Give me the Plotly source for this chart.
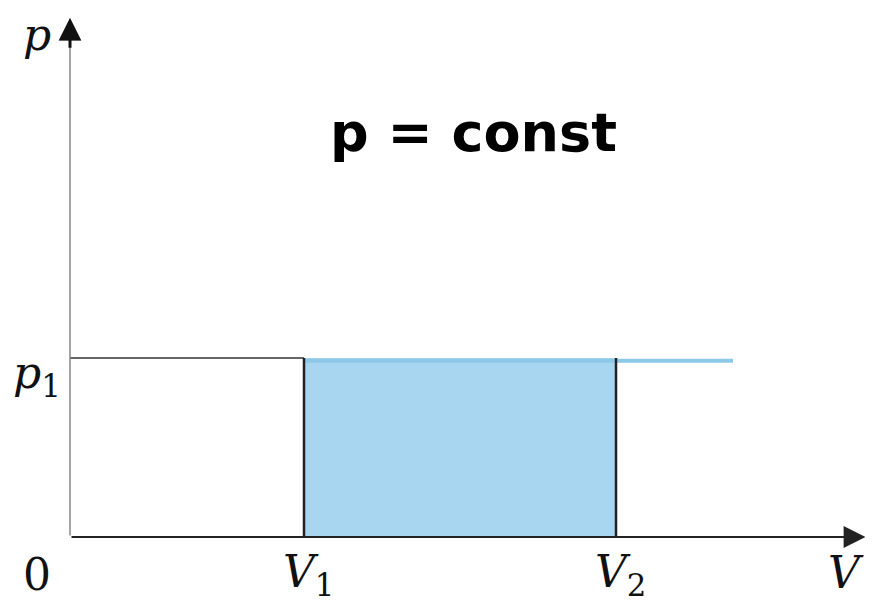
import plotly.graph_objects as go

# Data (arbitrary units)
V1 = 3.0
V2 = 7.0
p1 = 2.0
V_line_end = 8.5
x_axis_end = 10.2
y_axis_end = 5.8

px_x = 78.0   # pixels per V unit
px_y = 89.5   # pixels per p unit
ox, oy = 62, 529  # origin pixel inside the figure (page has 8px body margin)
W, H = 865, 595

fill_color = "rgb(168,214,240)"
line_blue = "rgb(140,200,232)"

fig = go.Figure()

# shaded work area
fig.add_trace(go.Scatter(x=[V1, V2, V2, V1, V1], y=[0, 0, p1, p1, 0], fill="toself",
                         fillcolor=fill_color, line=dict(width=0), mode="lines",
                         hoverinfo="skip", showlegend=False))
# p1 line left part
fig.add_trace(go.Scatter(x=[0, V1], y=[p1, p1], mode="lines",
                         line=dict(color="#666666", width=2), showlegend=False))
# blue isobar
fig.add_trace(go.Scatter(x=[V1, V_line_end], y=[p1 * 0.985, p1 * 0.985], mode="lines",
                         line=dict(color=line_blue, width=4), showlegend=False))
# vertical lines at V1 and V2
for v in (V1, V2):
    fig.add_trace(go.Scatter(x=[v, v], y=[0, p1], mode="lines",
                             line=dict(color="#222222", width=2.5), showlegend=False))

# axes as arrows
fig.add_annotation(x=x_axis_end, y=0, ax=0, ay=0, xref="x", yref="y", axref="x", ayref="y",
                   showarrow=True, arrowhead=2, arrowsize=2.2, arrowwidth=2, arrowcolor="#222222", text="")
fig.add_annotation(x=0, y=y_axis_end, ax=0, ay=0, xref="x", yref="y", axref="x", ayref="y",
                   showarrow=True, arrowhead=2, arrowsize=3, arrowwidth=1.5, arrowcolor="#888888", text="")
# dark arrow tip on the p axis
fig.add_annotation(x=0, y=y_axis_end, ax=0, ay=y_axis_end - 0.35, xref="x", yref="y", axref="x", ayref="y",
                   showarrow=True, arrowhead=2, arrowsize=1.5, arrowwidth=3, arrowcolor="#111111", text="")

serif = dict(family="DejaVu Serif", size=44, color="#111111")

def lab(x, y, text, **kw):
    fig.add_annotation(x=x, y=y, xref="x", yref="y", text=text, showarrow=False, font=serif, **kw)

lab(-0.42, 5.62, "<i>p</i>")
lab(-0.42, 1.8, "<i>p</i><sub>1</sub>")
lab(-0.42, -0.42, "0")
lab(V1 + 0.06, -0.42, "<i>V</i><sub>1</sub>")
lab(V2 + 0.06, -0.42, "<i>V</i><sub>2</sub>")
lab(9.95, -0.4, "<i>V</i>")

fig.add_annotation(x=5.17, y=4.52, xref="x", yref="y", text="<b>p = const</b>", showarrow=False,
                   font=dict(family="DejaVu Sans", size=54, color="black"))

fig.update_xaxes(range=[-ox / px_x, (W - ox) / px_x], visible=False, fixedrange=True)
fig.update_yaxes(range=[-(H - oy) / px_y, oy / px_y], visible=False, fixedrange=True)
fig.update_layout(width=W, height=H, margin=dict(l=0, r=0, t=0, b=0),
                  plot_bgcolor="white", paper_bgcolor="white", showlegend=False)

fig.write_html("out.html")
